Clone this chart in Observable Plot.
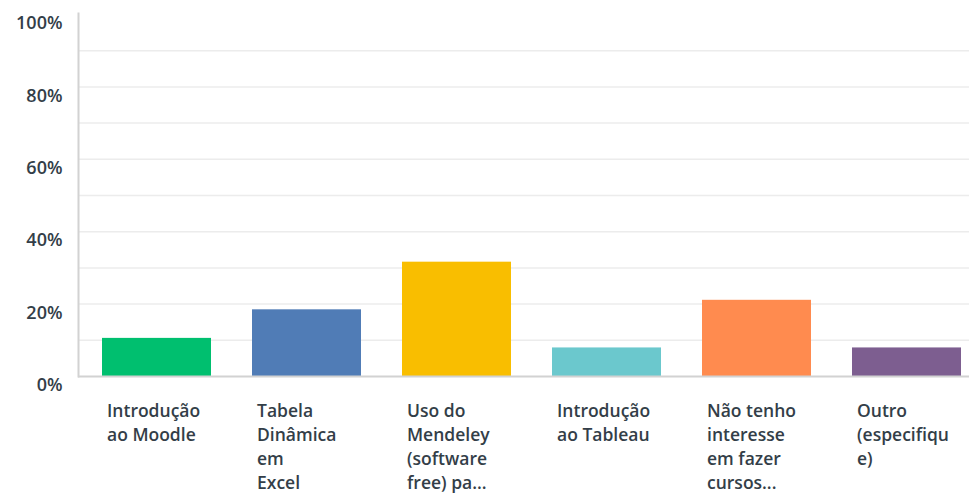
<!DOCTYPE html>
<html>
<head>
<meta charset="utf-8">
<script src="https://cdn.jsdelivr.net/npm/d3@7"></script>
<script src="https://cdn.jsdelivr.net/npm/@observablehq/plot@0.6"></script>
<style>
  html, body { margin: 0; padding: 0; background: #fff; }
</style>
</head>
<body>
<div id="chart"></div>
<script>
const categories = [
  "Introdução\nao Moodle",
  "Tabela\nDinâmica\nem\nExcel",
  "Uso do\nMendeley\n(software\nfree) pa...",
  "Introdução\nao Tableau",
  "Não tenho\ninteresse\nem fazer\ncursos...",
  "Outro\n(especifiqu\ne)"
];
const values = [10.53, 18.42, 31.58, 7.89, 21.05, 7.89];
const colors = ["#00bf6f", "#507cb6", "#f9be00", "#6bc8cd", "#ff8b4f", "#7d5e90"];
const yTicks = [0, 20, 40, 60, 80, 100];
const gridTicks = [10, 20, 30, 40, 50, 60, 70, 80, 90];

const data = categories.map((c, i) => ({cat: c, value: values[i], color: colors[i]}));
const textColor = "#333e48";

const chart = Plot.plot({
  width: 969,
  height: 493,
  marginLeft: 78,
  marginRight: 0,
  marginTop: 13,
  marginBottom: 117,
  style: {fontFamily: "'Open Sans', sans-serif", background: "#fff"},
  x: {domain: categories, range: [77, 986], paddingInner: 0.275, paddingOuter: 0.16, axis: null},
  y: {domain: [0, 100], range: [376, 14], axis: null, label: null},
  marks: [
    Plot.ruleY(gridTicks, {stroke: "#ececec", strokeWidth: 1.5}),
    Plot.barY(data, {x: "cat", y: "value", fill: "color"}),
    Plot.frame({anchor: "left", stroke: "#d2d2d2", strokeWidth: 2}),
    Plot.ruleY([0], {stroke: "#d2d2d2", strokeWidth: 2}),
    Plot.axisY(yTicks, {
      label: null,
      tickSize: 0, tickPadding: 16, dy: 9,
      tickFormat: d => d + "%",
      fontSize: 18, fontWeight: 600, fill: textColor
    }),
    Plot.text(data, {
      x: "cat", y: 0, text: "cat",
      textAnchor: "start", lineAnchor: "top",
      dx: -50, dy: 23, lineHeight: 1.38,
      fontSize: 17.5, fontWeight: 600, fill: textColor
    })
  ]
});
document.getElementById("chart").appendChild(chart);
</script>
</body>
</html>
